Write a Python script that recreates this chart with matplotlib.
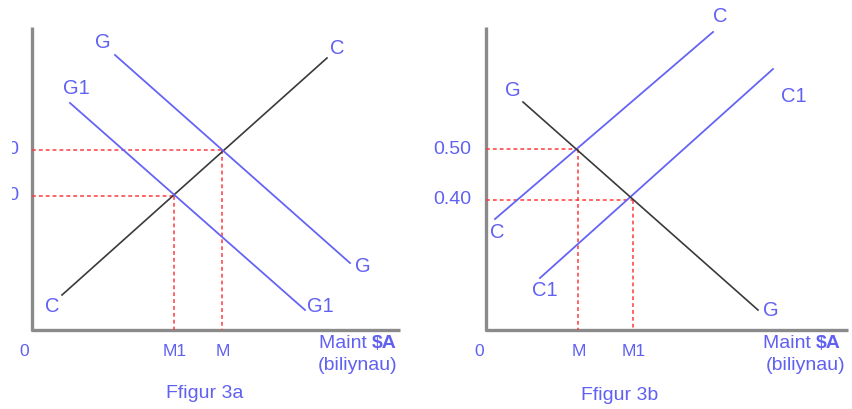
import matplotlib.pyplot as plt
from matplotlib.patches import Rectangle

plt.rcParams['font.family'] = ['Liberation Sans', 'DejaVu Sans']

# pixel-space layout of the two supply/demand sketches (x right, y down)
# ---- Figure 3a ----
a_axis_x = [32, 32, 400]
a_axis_y = [27, 330, 330]
a_line_C = ([62, 327], [295, 58])
a_line_G = ([115, 350], [55, 263])
a_line_G1 = ([70, 305], [103, 310])
a_eq = [(222, 150), (174, 196)]          # (M, 0.50), (M1, 0.40)
a_price_labels = ['0.50', '0.40']
a_qty_labels = ['M', 'M1']

# ---- Figure 3b ----
b_axis_x = [486, 486, 848]
b_axis_y = [27, 330, 330]
b_line_C = ([495, 713], [219, 32])
b_line_C1 = ([540, 773], [278, 69])
b_line_G = ([523, 758], [102, 310])
b_eq = [(578, 149), (633, 200)]
b_price_labels = ['0.50', '0.40']
b_qty_labels = ['M', 'M1']

BLUE = '#6464f5'
TXT = '#6060f2'
BLACK = '#3a3a3a'
RED = '#ff3a3a'
GREY = '#8a8a8a'

fig = plt.figure(figsize=(8.53, 4.09), dpi=100)
ax = fig.add_axes([0, 0, 1, 1])
ax.set_xlim(0, 853)
ax.set_ylim(409, 0)
ax.axis('off')

# axes of each sketch
for xs, ys in [(a_axis_x, a_axis_y), (b_axis_x, b_axis_y)]:
    ax.plot(xs, ys, color=GREY, lw=2.4, solid_capstyle='butt', zorder=1)

# guide lines to the axes
for eqs, x0 in [(a_eq, 32), (b_eq, 486)]:
    for (ex, ey) in eqs:
        ax.plot([x0, ex], [ey, ey], color=RED, lw=1.1, ls=(0, (2.5, 2)), zorder=2)
        ax.plot([ex, ex], [ey, 330], color=RED, lw=1.1, ls=(0, (2.5, 2)), zorder=2)

# curves
ax.plot(*a_line_C, color=BLACK, lw=1.2, zorder=3)
ax.plot(*a_line_G, color=BLUE, lw=1.3, zorder=3)
ax.plot(*a_line_G1, color=BLUE, lw=1.3, zorder=3)
ax.plot(*b_line_C, color=BLUE, lw=1.3, zorder=3)
ax.plot(*b_line_C1, color=BLUE, lw=1.3, zorder=3)
ax.plot(*b_line_G, color=BLACK, lw=1.2, zorder=3)

lbl = dict(color=TXT, fontsize=14.5, ha='center', va='center')
# curve labels 3a
ax.text(52, 307, 'C', **lbl)
ax.text(337, 48, 'C', **lbl)
ax.text(103, 43, 'G', **lbl)
ax.text(363, 267, 'G', **lbl)
ax.text(76, 89, 'G1', **lbl)
ax.text(320, 307, 'G1', **lbl)
# curve labels 3b
ax.text(497, 232, 'C', **lbl)
ax.text(720, 17, 'C', **lbl)
ax.text(545, 290, 'C1', **lbl)
ax.text(794, 97, 'C1', **lbl)
ax.text(513, 90, 'G', **lbl)
ax.text(771, 310, 'G', **lbl)

# price labels (the left sketch's labels run off the image edge)
for (ex, ey), t in zip(a_eq, a_price_labels):
    ax.text(19, ey, t, color=TXT, fontsize=14, ha='right', va='center')
ax.add_patch(Rectangle((0, 100), 12.5, 130, facecolor='white',
                       edgecolor='none', zorder=5))
for (ex, ey), t in zip(b_eq, b_price_labels):
    ax.text(471, ey, t, color=TXT, fontsize=14, ha='right', va='center')

# quantity labels
qty = dict(color=TXT, fontsize=12.5, ha='center', va='center')
ax.text(24, 352, '0', **qty)
for (ex, ey), t in zip(a_eq, a_qty_labels):
    ax.text(ex + 1, 352, t, **qty)
ax.text(479, 352, '0', **qty)
for (ex, ey), t in zip(b_eq, b_qty_labels):
    ax.text(ex + 1, 352, t, **qty)

big = dict(color=TXT, fontsize=14, va='center')
for cx, unit_x in [(358, 372), (806, 816)]:
    ax.text(unit_x, 343, 'Maint ', ha='right', **big)
    ax.text(unit_x, 343, '$A', ha='left', fontweight='bold', **big)
    ax.text(cx, 366, '(biliynau)', ha='center', **big)

ax.text(205, 393, 'Ffigur 3a', ha='center', **big)
ax.text(620, 396, 'Ffigur 3b', ha='center', **big)

fig.savefig('out.png', dpi=100, facecolor='white')
